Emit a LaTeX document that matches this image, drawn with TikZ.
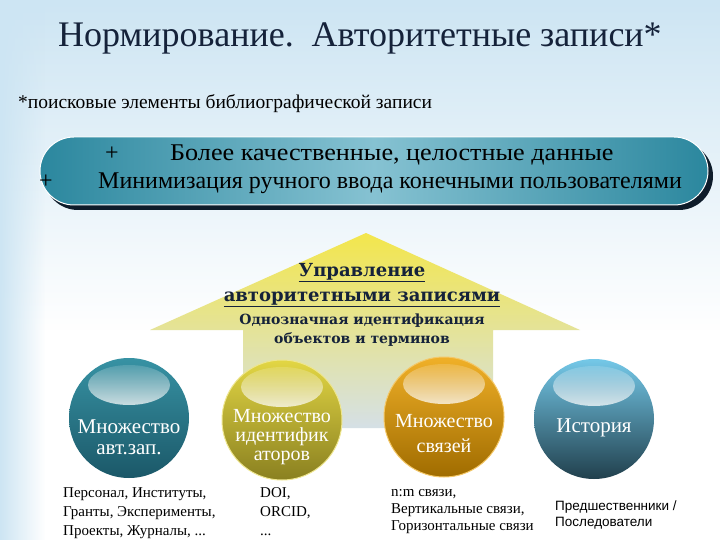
\documentclass[tikz,border=0pt]{standalone}
\usepackage{fontspec}
\setmainfont{Liberation Serif}
\newfontfamily\djb{DejaVu Serif}
\newfontfamily\lsans{Liberation Sans}
\usetikzlibrary{fadings}
\tikzfading[name=fadeR, left color=transparent!0, right color=transparent!100]
\tikzfading[name=fadeD, top color=transparent!0, bottom color=transparent!100]
\tikzfading[name=hlfade, top color=transparent!85, bottom color=transparent!25]
\definecolor{sky}{HTML}{CDE5F3}
\definecolor{navy}{HTML}{15223A}
\definecolor{bandL}{HTML}{2B879E}
\definecolor{bandM}{HTML}{86C2D2}
\definecolor{bshadow}{HTML}{0E1C2A}
\definecolor{arTop}{HTML}{F3E64C}
\definecolor{arMid}{HTML}{ECEAA6}
\definecolor{arBot}{HTML}{D5E0E6}
\definecolor{aT}{HTML}{3792A4}\definecolor{aB}{HTML}{1B5868}
\definecolor{bT}{HTML}{E2D644}\definecolor{bB}{HTML}{8A8020}
\definecolor{cT}{HTML}{F0B028}\definecolor{cB}{HTML}{A06C00}
\definecolor{dT}{HTML}{74C8E8}\definecolor{dB}{HTML}{21404D}
\tikzset{
  ball/.style={circle, minimum size=120pt, inner sep=0pt},
  balltext/.style={text=white, align=center, font=\fontsize{21}{21}\selectfont},
  lbl/.style={anchor=north west, align=left, inner sep=0pt, font=\fontsize{15}{19}\selectfont, text=black},
  artext/.style={text=navy, font=\djb\bfseries\fontsize{18}{20}\selectfont, inner sep=0pt},
  bantext/.style={anchor=base west, inner sep=0pt, font=\fontsize{24}{26}\selectfont, text=black}
}
\begin{document}
\begin{tikzpicture}[x=1pt,y=-1pt]
\useasboundingbox (0,0) rectangle (720,540);
% background
\fill[white] (0,0) rectangle (720,540);
\fill[sky, path fading=fadeD] (0,0) rectangle (720,330);
\fill[sky, path fading=fadeR] (0,0) rectangle (45,540);
% title
\node[anchor=base, inner sep=0pt, text=navy, font=\fontsize{36}{40}\selectfont] (title) at (360,47) {Нормирование.\ \ Авторитетные записи*};
\node[anchor=base west, inner sep=0pt, font=\fontsize{19.5}{21}\selectfont] (sub) at (18,109) {*поисковые элементы библиографической записи};
% banner
\fill[bshadow, rounded corners=34pt] (44,142) rectangle (713,210);
\shade[left color=bandL, right color=bandL, middle color=bandM, rounded corners=34pt, draw=white, line width=1pt] (40,137) rectangle (708,205);
\node[bantext] (p1) at (105,161) {+};
\node[bantext] (l1) at (170,161) {\scalebox{1.09}[1]{Более качественные, целостные данные}};
\node[bantext] (p2) at (39,189) {+};
\node[bantext] (l2) at (98,189) {Минимизация ручного ввода конечными пользователями};
% arrow
\shade[top color=arTop, middle color=arMid, bottom color=arBot]
  (366,233) -- (580,330) -- (493,330) -- (493,428) -- (243,428) -- (243,330) -- (150,330) -- cycle;
\node[artext, anchor=base] (a1) at (362,276) {\underline{Управление}};
\node[artext, anchor=base] (a2) at (362,301) {\underline{авторитетными записями}};
\node[artext, anchor=base, font=\djb\bfseries\fontsize{14}{16}\selectfont] (a3) at (362,324) {Однозначная идентификация};
\node[artext, anchor=base, font=\djb\bfseries\fontsize{14}{16}\selectfont] (a4) at (362,343) {объектов и терминов};
% balls
\node[ball, top color=aT, bottom color=aB] (b1) at (129,418) {};
\node[ball, top color=bT, bottom color=bB, draw=bT!60!white, line width=1pt] (b2) at (282,420) {};
\node[ball, top color=cT, bottom color=cB, draw=cT!70!white, line width=1pt] (b3) at (444,417) {};
\node[ball, top color=dT, bottom color=dB] (b4) at (594,419) {};
\foreach \n in {b1,b2,b3,b4}{
  \fill[white, path fading=hlfade] ([yshift=33pt]\n.center) ellipse [x radius=41pt, y radius=20pt];
}
\node[balltext] (t1) at ([yshift=-19pt]b1.center) {Множество\\авт.зап.};
\node[balltext, font=\fontsize{20}{19}\selectfont] (t2) at ([yshift=-17pt]b2.center) {Множество\\идентифик\\аторов};
\node[balltext, font=\fontsize{20}{25}\selectfont] (t3) at ([yshift=-17pt]b3.center) {Множество\\связей};
\node[balltext] (t4) at ([yshift=-9pt]b4.center) {История};
% labels
\node[lbl] (d1) at (63,487) {Персонал, Институты,\\Гранты, Эксперименты,\\Проекты, Журналы, ...};
\node[lbl] (d2) at (260,487) {DOI,\\ORCID,\\...};
\node[lbl, font=\fontsize{15}{17}\selectfont] (d3) at (391,489) {n:m связи,\\Вертикальные связи,\\Горизонтальные связи};
\node[lbl, font=\lsans\fontsize{13.5}{16}\selectfont] (d4) at (555,501) {Предшественники /\\Последователи};
\end{tikzpicture}
\end{document}
